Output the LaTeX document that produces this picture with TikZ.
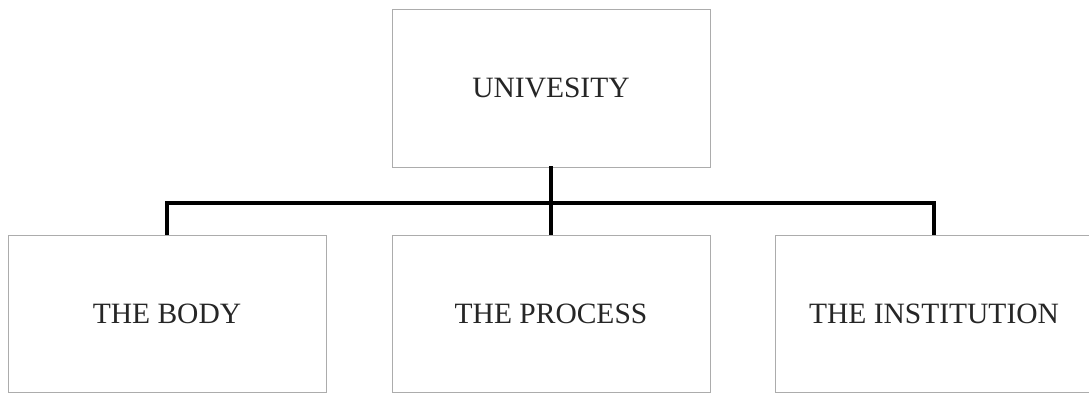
\documentclass[tikz,border=0pt]{standalone}
\usepackage{fontspec}
\setmainfont{Liberation Serif}
\begin{document}
\begin{tikzpicture}[x=1pt,y=-1pt,
  orgbox/.style={draw=gray!65, line width=0.9pt, fill=white, minimum width=318pt, minimum height=158pt, inner sep=0pt, font=\fontsize{29.5}{34}\selectfont, text=black!85},
  conn/.style={line width=3.6pt, black, line cap=rect}]
\useasboundingbox (0,0) rectangle (1089,394);
\node[orgbox] (uni) at (551,88) {UNIVESITY};
\node[orgbox, minimum height=157pt] (body) at (167,313.5) {THE BODY};
\node[orgbox, minimum height=157pt] (proc) at (551,313.5) {THE PROCESS};
\node[orgbox, minimum height=157pt] (inst) at (934,313.5) {THE INSTITUTION};
\coordinate (bar) at (551,203);
\draw[conn] (uni.south) -- (bar);
\draw[conn, line cap=butt] (body.north) |- (bar) -| (inst.north);
\draw[conn, line cap=butt] (bar) -- (proc.north);
\end{tikzpicture}
\end{document}
